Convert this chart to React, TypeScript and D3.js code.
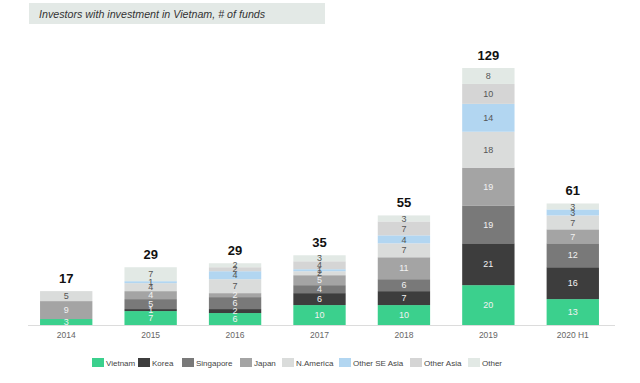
import React from "react";
import * as d3 from "d3";

const years = ["2014", "2015", "2016", "2017", "2018", "2019", "2020 H1"];
const seriesNames = ["Vietnam", "Korea", "Singapore", "Japan", "N.America", "Other SE Asia", "Other Asia", "Other"];
const vietnam = [3, 7, 6, 10, 10, 20, 13];
const korea = [0, 1, 2, 6, 7, 21, 16];
const singapore = [0, 5, 6, 4, 6, 19, 12];
const japan = [9, 4, 2, 5, 11, 19, 7];
const nAmerica = [5, 4, 7, 2, 7, 18, 7];
const otherSEAsia = [0, 1, 4, 1, 4, 14, 3];
const otherAsia = [0, 0, 2, 4, 7, 10, 0];
const other = [0, 7, 2, 3, 3, 8, 3];
const totals = [17, 29, 29, 35, 55, 129, 61];

const colors = ["#3bd08d", "#3d3d3d", "#797979", "#a4a4a4", "#dadcdb", "#b2d6f1", "#d5d5d5", "#e2e9e5"];
const labelColors = ["#f2f2f2", "#f2f2f2", "#f2f2f2", "#f2f2f2", "#555", "#555", "#555", "#555"];
const legendX = [92, 138, 182, 240, 282, 339, 410, 468];

const FONT = "'Liberation Sans', Arial, sans-serif";

export default function App() {
  const W = 640, H = 383;
  const baseY = 325;
  const series = [vietnam, korea, singapore, japan, nAmerica, otherSEAsia, otherAsia, other];
  const rows = years.map((y, i) => {
    const r: any = { year: y };
    seriesNames.forEach((s, k) => (r[s] = series[k][i]));
    return r;
  });
  const stacked = d3.stack<any>().keys(seriesNames)(rows);
  const x = d3.scaleBand().domain(years).range([24, 615]).paddingInner(0.38).paddingOuter(0.19);
  const y = d3.scaleLinear().domain([0, 129]).range([baseY, 68]);

  return (
    <svg width={W} height={H} style={{ position: "absolute", left: 0, top: 0, background: "#fff" }} fontFamily={FONT}>
      <rect x={29} y={3} width={296} height={21} fill="#e3e9e6" />
      <text x={39} y={17.5} fontSize={10.7} fontStyle="italic" fill="#333">
        Investors with investment in Vietnam, # of funds
      </text>
      {stacked.map((layer, k) => (
        <g key={layer.key}>
          {layer.map((d, i) => {
            const v = d[1] - d[0];
            if (v <= 0) return null;
            return (
              <rect key={i} x={x(years[i])!} width={x.bandwidth()} y={y(d[1])} height={y(d[0]) - y(d[1])} fill={colors[k]} />
            );
          })}
        </g>
      ))}
      {stacked.map((layer, k) => (
        <g key={layer.key + "l"}>
          {layer.map((d, i) => {
            const v = d[1] - d[0];
            if (v <= 0) return null;
            return (
              <text key={i} x={x(years[i])! + x.bandwidth() / 2} y={(y(d[0]) + y(d[1])) / 2 + 3.2} fontSize={9} textAnchor="middle" fill={labelColors[k]}>
                {v}
              </text>
            );
          })}
        </g>
      ))}
      {years.map((yr, i) => {
        const top = y(stacked[stacked.length - 1][i][1]);
        return (
          <text key={yr} x={x(yr)! + x.bandwidth() / 2} y={top - 8} fontSize={13} fontWeight="bold" textAnchor="middle" fill="#111">
            {totals[i]}
          </text>
        );
      })}
      <line x1={28} x2={615} y1={baseY + 0.5} y2={baseY + 0.5} stroke="#dcdcdc" />
      {years.map((yr) => (
        <text key={yr + "x"} x={x(yr)! + x.bandwidth() / 2} y={338} fontSize={8.5} textAnchor="middle" fill="#666">
          {yr}
        </text>
      ))}
      {seriesNames.map((s, k) => (
        <g key={s + "lg"}>
          <rect x={legendX[k]} y={358} width={12} height={9} fill={colors[k]} />
          <text x={legendX[k] + 14} y={365.5} fontSize={8} fill="#444">
            {s}
          </text>
        </g>
      ))}
    </svg>
  );
}
